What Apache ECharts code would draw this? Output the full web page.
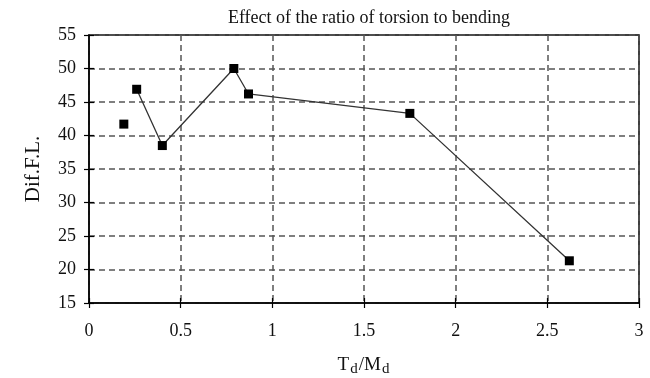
<!DOCTYPE html>
<html><head><meta charset="utf-8">
<script src="https://cdn.jsdelivr.net/npm/echarts@6/dist/echarts.min.js"></script>
<style>html,body{margin:0;padding:0;background:#fff}#c{width:650px;height:378px}</style>
</head><body><div id="c"></div>
<script>
// Data
const chartTitle = 'Effect of the ratio of torsion to bending';
const xValues = [0.19, 0.26, 0.40, 0.79, 0.87, 1.75, 2.62];   // Td/Md
const yValues = [41.7, 46.9, 38.5, 50.0, 46.2, 43.3, 21.3];   // Dif.F.L.
const unconnectedCount = 1; // first point is drawn without a connecting line
const xTicks = [0, 0.5, 1, 1.5, 2, 2.5, 3];
const yTicks = [15, 20, 25, 30, 35, 40, 45, 50, 55];
const yName = 'Dif.F.L.';

const pts = xValues.map((x, i) => [x, yValues[i]]);
const font = 'Liberation Serif';
const axisCommon = (vals) => ({
  min: vals[0], max: vals[vals.length - 1], interval: vals[1] - vals[0]
});

const chart = echarts.init(document.getElementById('c'));
chart.setOption({
  animation: false,
  backgroundColor: '#fff',
  title: {
    text: chartTitle, left: 364, top: 4, textAlign: 'center',
    textStyle: { fontFamily: font, fontSize: 18, fontWeight: 'normal', color: '#111' }
  },
  grid: { left: 89, right: 11, top: 35, bottom: 75, outerBoundsMode: 'none', containLabel: false,
          show: true, borderColor: '#000', borderWidth: 1.5, backgroundColor: 'transparent' },
  xAxis: [
    Object.assign({
      type: 'value', position: 'bottom',
      name: '{a|T}{s|d}{a|/M}{s|d}', nameLocation: 'middle', nameGap: 50,
      nameTextStyle: { rich: {
        a: { fontFamily: font, fontSize: 19, color: '#111' },
        s: { fontFamily: font, fontSize: 15, color: '#111', verticalAlign: 'bottom', padding: [9, 1, 0, 1] }
      } },
      axisLine: { show: true, onZero: false, lineStyle: { color: '#000', width: 1.5 } },
      axisTick: { show: true, inside: false, length: 5, lineStyle: { color: '#000', width: 1.2 } },
      axisLabel: { fontFamily: font, fontSize: 18, color: '#111', margin: 19, formatter: v => String(v) },
      splitLine: { show: true, lineStyle: { color: '#555', type: [6, 4], width: 1.5 } }
    }, axisCommon(xTicks)),
    Object.assign({
      type: 'value', position: 'bottom',
      axisLine: { show: false },
      axisTick: { show: true, inside: true, length: 5, lineStyle: { color: '#000', width: 1.2 } },
      axisLabel: { show: false }, splitLine: { show: false }
    }, axisCommon(xTicks))
  ],
  yAxis: [
    Object.assign({
      type: 'value', position: 'left',
      name: yName, nameLocation: 'middle', nameGap: 45, nameRotate: 90,
      nameTextStyle: { fontFamily: font, fontSize: 21, color: '#111' },
      axisLine: { show: true, onZero: false, lineStyle: { color: '#000', width: 1.5 } },
      axisTick: { show: true, inside: false, length: 5, lineStyle: { color: '#000', width: 1.2 } },
      axisLabel: { fontFamily: font, fontSize: 18, color: '#111', margin: 13 },
      splitLine: { show: true, lineStyle: { color: '#555', type: [6, 4], width: 1.5 } }
    }, axisCommon(yTicks)),
    Object.assign({
      type: 'value', position: 'left',
      axisLine: { show: false },
      axisTick: { show: true, inside: true, length: 5, lineStyle: { color: '#000', width: 1.2 } },
      axisLabel: { show: false }, splitLine: { show: false }
    }, axisCommon(yTicks))
  ],
  series: [
    {
      type: 'scatter', data: pts.slice(0, unconnectedCount),
      symbol: 'rect', symbolSize: 9, itemStyle: { color: '#000', opacity: 1 }
    },
    {
      type: 'line', data: pts.slice(unconnectedCount),
      symbol: 'rect', symbolSize: 9, showSymbol: true,
      itemStyle: { color: '#000', opacity: 1 },
      lineStyle: { color: '#333', width: 1.3 }
    }
  ]
});
</script>
</body></html>
